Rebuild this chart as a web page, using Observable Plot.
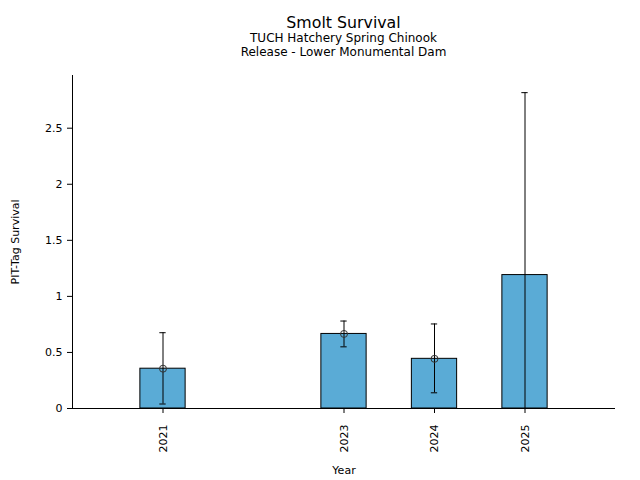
<!DOCTYPE html>
<html><head><meta charset="utf-8">
<script src="https://cdn.jsdelivr.net/npm/d3@7"></script>
<script src="https://cdn.jsdelivr.net/npm/@observablehq/plot@0.6"></script>
<style>
body{margin:0;background:#fff;font-family:"DejaVu Sans",sans-serif;}
#head{position:relative;height:60px;width:640px;}
.t{position:absolute;left:72px;width:543px;text-align:center;color:#000;white-space:nowrap;line-height:1;}
#chart svg{display:block;}
</style></head><body>
<div id="head">
  <div class="t" style="top:14.6px;font-size:15.8px">Smolt Survival</div>
  <div class="t" style="top:31.5px;font-size:12px">TUCH Hatchery Spring Chinook</div>
  <div class="t" style="top:45.5px;font-size:12px">Release - Lower Monumental Dam</div>
</div>
<div id="chart"></div>
<script>
const years = [2021, 2023, 2024, 2025];
const survival = [0.355, 0.665, 0.443, 1.19];
const lower = [0.040, 0.550, 0.140, -0.437];
const upper = [0.676, 0.780, 0.754, 2.817];
const pointEst = [0.355, 0.665, 0.443, null];
const yTicks = [0, 0.5, 1, 1.5, 2, 2.5];

const data = years.map((y, i) => ({year: y, value: survival[i], lo: lower[i], hi: upper[i], pt: pointEst[i]}));
const barHalf = 0.25, capHalf = 0.035;

const chart = Plot.plot({
  width: 640, height: 420,
  marginTop: 15, marginBottom: 72, marginLeft: 72, marginRight: 25,
  style: {fontFamily: "DejaVu Sans, sans-serif", fontSize: "11px", color: "#000", background: "#fff"},
  x: {type: "linear", domain: [2020, 2026]},
  y: {domain: [0, 2.97]},
  marks: [
    Plot.rectY(data, {x1: d => d.year - barHalf, x2: d => d.year + barHalf, y1: 0, y2: "value", fill: "#5aabd6", stroke: "#000", strokeWidth: 1, inset: 0}),
    Plot.ruleX(data, {x: "year", y1: "lo", y2: "hi", stroke: "#000", strokeWidth: 1, clip: true}),
    Plot.ruleY(data, {y: "hi", x1: d => d.year - capHalf, x2: d => d.year + capHalf, stroke: "#000", strokeWidth: 1, clip: true}),
    Plot.ruleY(data, {y: "lo", x1: d => d.year - capHalf, x2: d => d.year + capHalf, stroke: "#000", strokeWidth: 1, clip: true}),
    Plot.dot(data.filter(d => d.pt != null), {x: "year", y: "pt", r: 3.5, stroke: "#333", fill: "none", strokeWidth: 1}),
    Plot.ruleY([0], {stroke: "#000", strokeWidth: 1}),
    Plot.ruleX([2020], {stroke: "#000", strokeWidth: 1}),
    Plot.axisX({ticks: years, tickFormat: d => String(d), tickRotate: -90, tickSize: 5, tickPadding: 11, label: "Year", labelAnchor: "center", labelArrow: "none", labelOffset: 65}),
    Plot.axisY({ticks: yTicks, tickFormat: d => String(d), tickSize: 5, tickPadding: 5, label: "PIT-Tag Survival", labelAnchor: "center", labelArrow: "none", labelOffset: 61})
  ]
});
document.getElementById("chart").appendChild(chart);
</script>
</body></html>
